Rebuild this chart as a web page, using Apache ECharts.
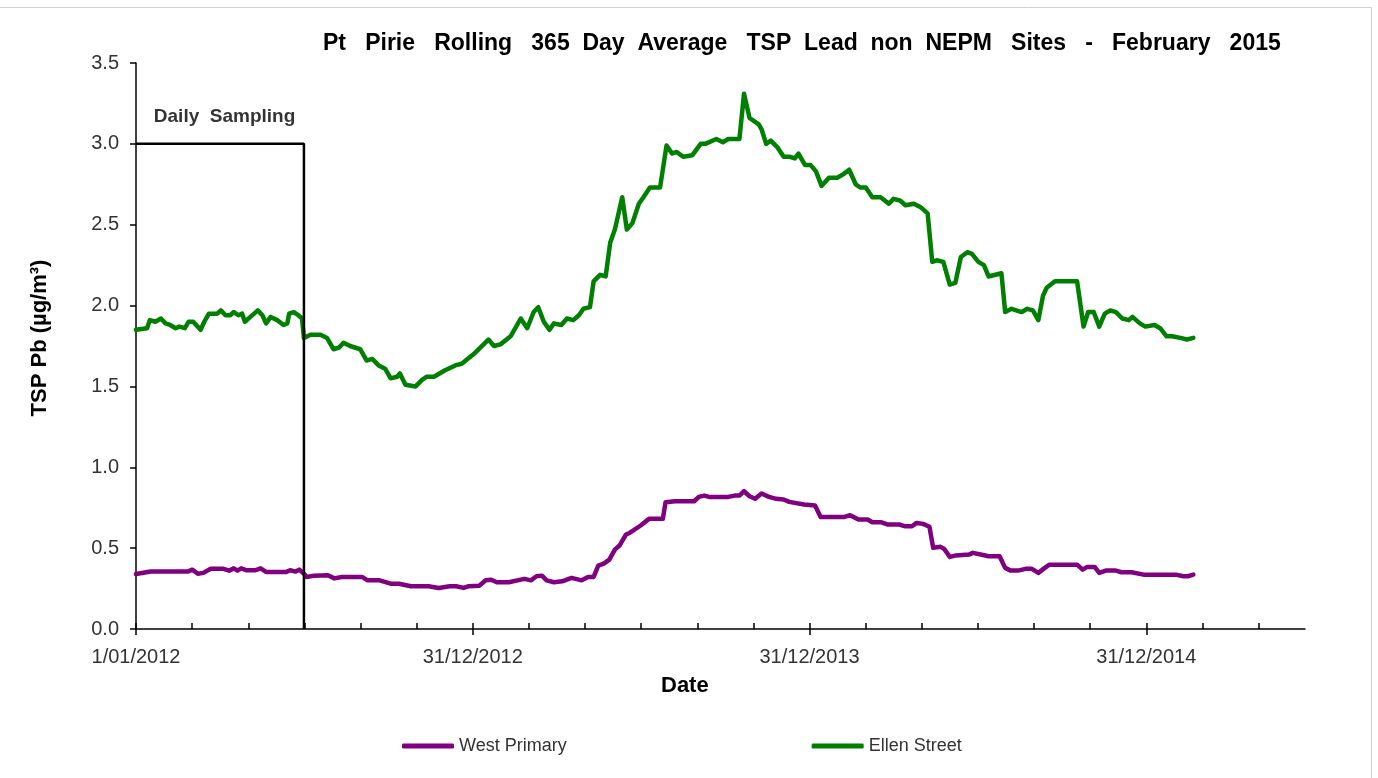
<!DOCTYPE html>
<html>
<head>
<meta charset="utf-8">
<script src="https://cdn.jsdelivr.net/npm/echarts@6/dist/echarts.min.js"></script>
<style>
  html, body { margin: 0; padding: 0; background: #fff; }
  #chart { width: 1378px; height: 778px; }
</style>
</head>
<body>
<div id="chart"></div>
<script>
// Day numbers are counted from 1 January 2012.
const START = Date.UTC(2012, 0, 1);
const DAY_MS = 86400000;
const toDay = (iso) => {
  const [y, m, d] = iso.split('-').map(Number);
  return Math.round((Date.UTC(y, m - 1, d) - START) / DAY_MS);
};

// Labelled date ticks on the x axis
const tickDates = ['2012-01-01', '2012-12-31', '2013-12-31', '2014-12-31'];
// End of the daily sampling period
const samplingEnd = '2012-07-01';
const samplingLevel = 3.0;

// West Primary rolling 365 day average (µg/m³)
const westDay = [
  0, 16, 56, 61, 67, 73, 81, 95, 101, 106,
  110, 114, 120, 129, 135, 141, 163, 167, 173, 177,
  182, 185, 193, 208, 215, 223, 245, 251, 264, 276,
  285, 298, 317, 328, 340, 347, 355, 360, 372, 379,
  385, 391, 404, 421, 428, 434, 440, 445, 453, 462,
  472, 483, 490, 496, 501, 507, 513, 519, 524, 531,
  535, 547, 556, 571, 574, 584, 605, 610, 616, 621,
  642, 649, 654, 659, 665, 671, 678, 686, 694, 702,
  708, 724, 736, 742, 768, 774, 783, 793, 798, 808,
  815, 827, 834, 841, 846, 853, 860, 864, 872, 876,
  882, 888, 903, 907, 918, 924, 936, 942, 948, 956,
  964, 971, 978, 985, 990, 1005, 1020, 1026, 1031, 1039,
  1044, 1051, 1062, 1068, 1079, 1092, 1108, 1127, 1135, 1140,
  1146
];
const westValues = [
  0.34, 0.355, 0.355, 0.367, 0.342, 0.347, 0.372, 0.372, 0.361, 0.375,
  0.361, 0.375, 0.363, 0.363, 0.375, 0.353, 0.353, 0.363, 0.355, 0.367,
  0.342, 0.322, 0.33, 0.332, 0.313, 0.322, 0.322, 0.301, 0.301, 0.28,
  0.28, 0.264, 0.264, 0.254, 0.264, 0.264, 0.254, 0.264, 0.268, 0.301,
  0.305, 0.289, 0.289, 0.31, 0.301, 0.326, 0.33, 0.301, 0.289, 0.295,
  0.316, 0.301, 0.322, 0.322, 0.392, 0.404, 0.429, 0.491, 0.516, 0.584,
  0.594, 0.64, 0.681, 0.681, 0.784, 0.79, 0.79, 0.817, 0.825, 0.817,
  0.817, 0.825, 0.825, 0.852, 0.821, 0.805, 0.838, 0.817, 0.805, 0.801,
  0.786, 0.77, 0.763, 0.693, 0.693, 0.704, 0.677, 0.677, 0.66, 0.66,
  0.646, 0.646, 0.635, 0.635, 0.656, 0.65, 0.632, 0.502, 0.508, 0.495,
  0.446, 0.454, 0.46, 0.471, 0.458, 0.45, 0.45, 0.378, 0.361, 0.361,
  0.372, 0.372, 0.347, 0.378, 0.398, 0.398, 0.398, 0.367, 0.384, 0.384,
  0.347, 0.361, 0.361, 0.351, 0.351, 0.336, 0.336, 0.336, 0.326, 0.326,
  0.336
];

// Ellen Street rolling 365 day average (µg/m³)
const ellenDay = [
  0, 12, 15, 21, 27, 32, 37, 43, 47, 53,
  57, 62, 70, 74, 79, 88, 92, 97, 102, 106,
  111, 115, 118, 124, 132, 137, 141, 146, 153, 160,
  164, 166, 171, 176, 180, 182, 189, 200, 207, 214,
  220, 225, 232, 243, 250, 256, 263, 270, 276, 283,
  286, 292, 303, 310, 315, 323, 335, 346, 353, 366,
  382, 388, 395, 406, 417, 424, 431, 436, 442, 448,
  453, 461, 467, 474, 480, 485, 492, 496, 503, 509,
  514, 519, 527, 532, 538, 545, 550, 557, 568, 575,
  581, 586, 593, 603, 612, 617, 629, 636, 642, 654,
  659, 665, 675, 678, 683, 688, 695, 702, 709, 714,
  718, 725, 731, 737, 743, 751, 760, 766, 773, 780,
  785, 791, 798, 807, 816, 821, 828, 834, 843, 850,
  858, 863, 868, 875, 882, 888, 894, 901, 906, 913,
  919, 924, 938, 942, 949, 960, 966, 972, 978, 983,
  987, 996, 1007, 1020, 1027, 1032, 1038, 1044, 1050, 1056,
  1062, 1069, 1076, 1080, 1088, 1094, 1104, 1110, 1117, 1123,
  1132, 1139, 1146
];
const ellenValues = [
  1.85, 1.86, 1.91, 1.90, 1.92, 1.89, 1.88, 1.86, 1.87, 1.86,
  1.90, 1.90, 1.85, 1.90, 1.95, 1.95, 1.97, 1.94, 1.94, 1.96,
  1.94, 1.95, 1.90, 1.93, 1.97, 1.94, 1.89, 1.93, 1.91, 1.88,
  1.89, 1.95, 1.96, 1.94, 1.92, 1.80, 1.82, 1.82, 1.80, 1.73,
  1.74, 1.77, 1.75, 1.73, 1.66, 1.67, 1.63, 1.61, 1.55, 1.56,
  1.58, 1.51, 1.50, 1.54, 1.56, 1.56, 1.60, 1.63, 1.64, 1.70,
  1.79, 1.75, 1.76, 1.81, 1.92, 1.86, 1.96, 1.99, 1.90, 1.85,
  1.89, 1.88, 1.92, 1.91, 1.94, 1.98, 1.99, 2.15, 2.19, 2.18,
  2.39, 2.47, 2.67, 2.47, 2.51, 2.63, 2.67, 2.73, 2.73, 2.99,
  2.94, 2.95, 2.92, 2.93, 3.00, 3.00, 3.03, 3.01, 3.03, 3.03,
  3.31, 3.16, 3.12, 3.09, 3.00, 3.02, 2.98, 2.92, 2.92, 2.91,
  2.94, 2.87, 2.87, 2.83, 2.74, 2.79, 2.79, 2.81, 2.84, 2.75,
  2.73, 2.73, 2.67, 2.67, 2.63, 2.66, 2.65, 2.62, 2.63, 2.61,
  2.57, 2.27, 2.28, 2.27, 2.13, 2.14, 2.30, 2.33, 2.32, 2.27,
  2.25, 2.18, 2.20, 1.96, 1.98, 1.96, 1.98, 1.97, 1.91, 2.06,
  2.11, 2.15, 2.15, 2.15, 1.87, 1.96, 1.96, 1.87, 1.95, 1.97,
  1.96, 1.92, 1.91, 1.93, 1.89, 1.87, 1.88, 1.86, 1.81, 1.81,
  1.80, 1.79, 1.80
];

const FONT = '"Liberation Sans", Arial, sans-serif';
const AXIS_MAX_DAY = 1267;
const labelDays = tickDates.map(toDay);
const yearDays = labelDays[1] - labelDays[0];
const minorDays = [];
for (let k = 0; k * yearDays / 6 <= AXIS_MAX_DAY; k++) minorDays.push(k * yearDays / 6);
const samplingDay = toDay(samplingEnd);

const pad = (n) => (n < 10 ? '0' + n : '' + n);
const fmtDate = (day) => {
  const d = new Date(START + Math.round(day) * DAY_MS);
  return d.getUTCDate() + '/' + pad(d.getUTCMonth() + 1) + '/' + d.getUTCFullYear();
};
const pairs = (xs, ys) => xs.map((x, i) => [x, ys[i]]);

const titleText = 'Pt   Pirie   Rolling   365  Day  Average   TSP  Lead  non  NEPM   Sites   -   February   2015';

const chart = echarts.init(document.getElementById('chart'), null, { renderer: 'canvas' });
const axisColor = '#000';

chart.setOption({
  animation: false,
  backgroundColor: '#fff',
  textStyle: { fontFamily: FONT },
  title: [
    {
      text: titleText,
      left: 318, top: 27,
      textStyle: { fontFamily: FONT, fontSize: 23, fontWeight: 'bold', color: '#000' }
    },
    {
      text: 'Date',
      left: 656, top: 670,
      textStyle: { fontFamily: FONT, fontSize: 22, fontWeight: 'bold', color: '#000' }
    }
  ],
  legend: {
    data: ['West Primary', 'Ellen Street'],
    left: 397, top: 732,
    icon: 'roundRect',
    itemWidth: 52, itemHeight: 5, itemGap: 245,
    textStyle: { fontFamily: FONT, fontSize: 18, color: '#333' }
  },
  grid: { left: 136, right: 73, top: 63, bottom: 149, containLabel: false },
  xAxis: [
    {
      type: 'value', position: 'bottom', min: 0, max: AXIS_MAX_DAY, interval: yearDays / 6,
      axisLine: { lineStyle: { color: axisColor, width: 1.5 } },
      axisTick: { inside: true, length: 6, customValues: minorDays, lineStyle: { color: axisColor, width: 1.5 } },
      axisLabel: { show: false },
      splitLine: { show: false }
    },
    {
      type: 'value', position: 'bottom', min: 0, max: AXIS_MAX_DAY, interval: yearDays,
      axisLine: { show: false },
      axisTick: { inside: false, length: 6, customValues: labelDays, lineStyle: { color: axisColor, width: 1.5 } },
      axisLabel: {
        customValues: labelDays, formatter: (v) => fmtDate(v),
        fontFamily: FONT, fontSize: 20, color: '#333', margin: 18
      },
      splitLine: { show: false }
    }
  ],
  yAxis: {
    type: 'value', min: 0, max: 3.5, interval: 0.5,
    axisLine: { show: true, lineStyle: { color: axisColor, width: 1.5 } },
    axisTick: { show: true, inside: false, length: 6, lineStyle: { color: axisColor, width: 1.5 } },
    axisLabel: { formatter: (v) => v.toFixed(1), fontFamily: FONT, fontSize: 20, color: '#333', margin: 17 },
    splitLine: { show: false }
  },
  graphic: [
    {
      type: 'rect', z: -1, silent: true,
      shape: { x: -10, y: 7.5, width: 1381.5, height: 800 },
      style: { fill: 'none', stroke: '#d0d0d0', lineWidth: 1 }
    },
    {
      type: 'text', x: 40, y: 338, rotation: Math.PI / 2,
      style: {
        text: 'TSP Pb (µg/m³)', font: 'bold 22px ' + FONT, fill: '#000',
        align: 'center', verticalAlign: 'middle', textAlign: 'center', textVerticalAlign: 'middle'
      }
    }
  ],
  series: [
    {
      name: 'West Primary', type: 'line', xAxisIndex: 0,
      data: pairs(westDay, westValues),
      showSymbol: false, symbol: 'none',
      itemStyle: { color: '#800080' },
      lineStyle: { color: '#800080', width: 4.5, join: 'round', cap: 'round' }
    },
    {
      name: 'Ellen Street', type: 'line', xAxisIndex: 0,
      data: pairs(ellenDay, ellenValues),
      showSymbol: false, symbol: 'none',
      itemStyle: { color: '#008000' },
      lineStyle: { color: '#008000', width: 4.5, join: 'round', cap: 'round' }
    },
    {
      name: 'Daily sampling period', type: 'line', xAxisIndex: 0, silent: true,
      data: [[0, samplingLevel], [samplingDay, samplingLevel], [samplingDay, 0]],
      symbol: 'none',
      lineStyle: { color: '#000', width: 2.5 }
    },
    {
      name: 'Daily sampling label', type: 'scatter', xAxisIndex: 0, silent: true,
      data: [[96, 3.17]], symbolSize: 0,
      label: {
        show: true, position: 'inside', formatter: 'Daily  Sampling',
        fontFamily: FONT, fontSize: 19, fontWeight: 'bold', color: '#000'
      }
    }
  ]
});
</script>
</body>
</html>
